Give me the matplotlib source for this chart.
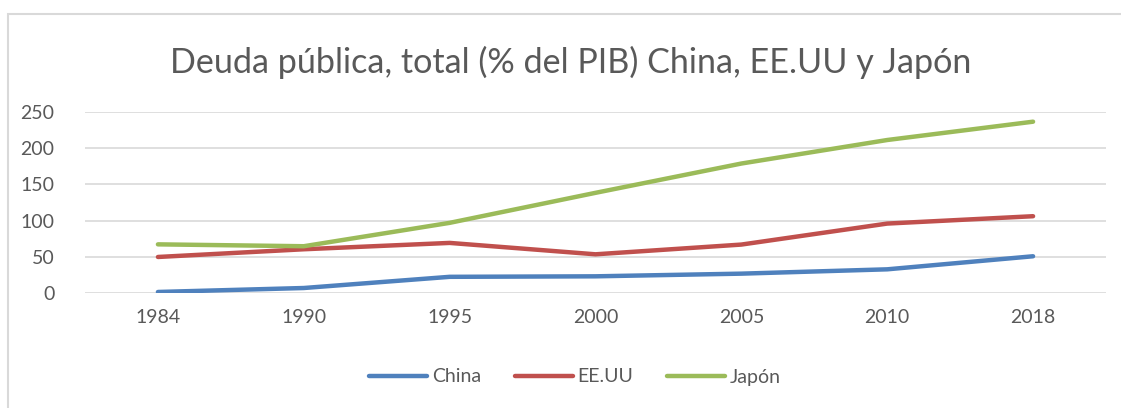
import matplotlib.pyplot as plt
from matplotlib.patches import Rectangle

# data
years = ["1984", "1990", "1995", "2000", "2005", "2010", "2018"]
china = [1, 6.5, 22, 22.7, 26.4, 32.4, 50.5]
eeuu = [49.5, 60.2, 69, 53.2, 66.7, 95.8, 106]
japon = [67, 64.4, 96.8, 138.4, 179, 211.6, 237]

series_names = ["China", "EE.UU", "Japón"]
colors = ["#4F81BD", "#C0504D", "#9BBB59"]
text_col = "#595959"
grid_col = "#D9D9D9"

plt.rcParams['font.family'] = ['Lato', 'DejaVu Sans']

W, H = 1121, 408
fig = plt.figure(figsize=(W / 100, H / 100), dpi=100)

# chart border (light gray, runs off the right and bottom edges)
fig.patches.append(Rectangle((8 / W, -0.1), 1.2, 1 - 14 / H + 0.1,
                             transform=fig.transFigure, fill=False,
                             edgecolor=grid_col, linewidth=1.5))

ax = fig.add_axes([85 / W, 1 - 292.7 / H, (1106 - 85) / W, (292.7 - 112.3) / H])

x = list(range(len(years)))
for vals, name, c in zip([china, eeuu, japon], series_names, colors):
    ax.plot(x, vals, color=c, linewidth=3.2, label=name, solid_capstyle='round')

ax.set_xlim(-0.5, len(years) - 0.5)
ax.set_ylim(0, 250)
ax.set_yticks([0, 50, 100, 150, 200, 250])
ax.set_xticks(x)
ax.set_xticklabels(years)
ax.grid(axis='y', color=grid_col, linewidth=1.2)
ax.set_axisbelow(True)
for s in ax.spines.values():
    s.set_visible(False)
ax.tick_params(length=0, labelsize=14, labelcolor=text_col)
ax.tick_params(axis='y', pad=22)
ax.tick_params(axis='x', pad=12)

fig.text(571 / W, 1 - 62 / H, "Deuda pública, total (% del PIB) China, EE.UU y Japón",
         ha='center', va='center', fontsize=24.6, color=text_col)

fig.legend(loc='center', bbox_to_anchor=(575 / W, 1 - 377 / H), ncol=3,
           frameon=False, fontsize=14, labelcolor=text_col,
           handlelength=3.0, handletextpad=0.25, columnspacing=1.7)

fig.savefig("out.png", dpi=100)
